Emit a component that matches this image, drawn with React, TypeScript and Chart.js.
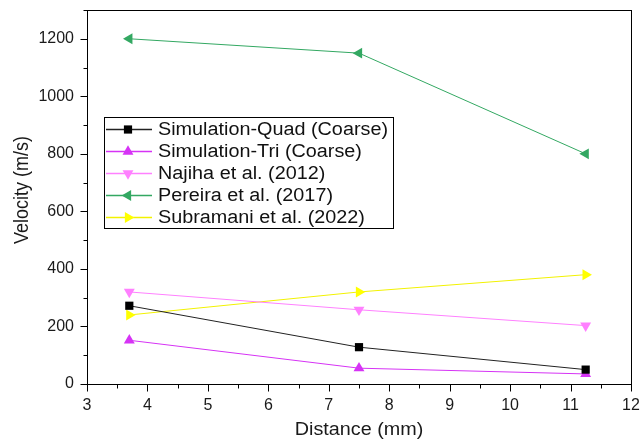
import React, { useEffect, useRef } from 'react';
import { Chart, registerables } from 'chart.js';
import { drawPoint } from 'chart.js/helpers';

Chart.register(...registerables);

// Measured velocities at three distances from the tool
const distances = [3.7, 7.5, 11.25];
const quadCoarse = [272, 128, 50];
const triCoarse = [152, 55, 35];
const najiha2012 = [320, 258, 203];
const pereira2017 = [1200, 1150, 800];
const subramani2022 = [240, 320, 380];

const seriesLabels = [
  'Simulation-Quad (Coarse)',
  'Simulation-Tri (Coarse)',
  'Najiha et al. (2012)',
  'Pereira et al. (2017)',
  'Subramani et al. (2022)',
];

const xTitle = 'Distance (mm)';
const yTitle = 'Velocity (m/s)';

const FONT = '"Liberation Sans", Arial, sans-serif';

const toPoints = (vals: number[]) => distances.map((x, i) => ({ x, y: vals[i] }));

type Style = { color: string; line: string; pointStyle: string; rotation: number; radius: number };

const styles: Style[] = [
  { color: '#000000', line: '#222222', pointStyle: 'rect', rotation: 0, radius: 5.8 },
  { color: '#d633f5', line: '#d633f5', pointStyle: 'triangle', rotation: 0, radius: 6.3 },
  { color: '#ff80ff', line: '#ff80ff', pointStyle: 'triangle', rotation: 180, radius: 6.3 },
  { color: '#33a862', line: '#33a862', pointStyle: 'triangle', rotation: 270, radius: 6.3 },
  { color: '#ffff00', line: '#f2f200', pointStyle: 'triangle', rotation: 90, radius: 6.3 },
];

const seriesValues = [quadCoarse, triCoarse, najiha2012, pereira2017, subramani2022];

// Draws text slightly widened horizontally, like the exported figure's lettering
function wideText(ctx: CanvasRenderingContext2D, text: string, x: number, y: number, sx: number) {
  ctx.save();
  ctx.translate(x, y);
  ctx.scale(sx, 1);
  ctx.fillText(text, 0, 0);
  ctx.restore();
}

// Frame, outward major/minor ticks and axis titles
const framePlugin = {
  id: 'frameTicks',
  afterDraw(chart: any) {
    const { ctx, chartArea } = chart;
    const xs = chart.scales.x;
    const ys = chart.scales.y;
    ctx.save();
    ctx.strokeStyle = '#000';
    ctx.lineWidth = 1;
    ctx.strokeRect(
      Math.round(chartArea.left) + 0.5,
      Math.round(chartArea.top) + 0.5,
      Math.round(chartArea.right - chartArea.left),
      Math.round(chartArea.bottom - chartArea.top)
    );
    ctx.beginPath();
    for (let v = 0; v <= 1300; v += 100) {
      const p = Math.round(ys.getPixelForValue(v)) + 0.5;
      const len = v % 200 === 0 ? 7 : 4;
      ctx.moveTo(Math.round(chartArea.left) + 0.5, p);
      ctx.lineTo(Math.round(chartArea.left) + 0.5 - len, p);
    }
    for (let v = 3; v <= 12.001; v += 0.5) {
      const p = Math.round(xs.getPixelForValue(v)) + 0.5;
      const len = Number.isInteger(v) ? 7 : 4;
      ctx.moveTo(p, Math.round(chartArea.bottom) + 0.5);
      ctx.lineTo(p, Math.round(chartArea.bottom) + 0.5 + len);
    }
    ctx.stroke();

    ctx.fillStyle = '#1a1a1a';
    ctx.textAlign = 'center';
    ctx.textBaseline = 'alphabetic';
    ctx.font = `17.5px ${FONT}`;
    const cx = (chartArea.left + chartArea.right) / 2;
    wideText(ctx, xTitle, cx, 435, 1.13);

    ctx.font = `18px ${FONT}`;
    ctx.textBaseline = 'middle';
    ctx.translate(23, 190);
    ctx.rotate(-Math.PI / 2);
    ctx.scale(1, 1.1);
    ctx.fillText(yTitle, 0, 0);
    ctx.restore();
  },
};

// Boxed legend inside the plot area
const legendPlugin = {
  id: 'boxLegend',
  afterDatasetsDraw(chart: any) {
    const { ctx } = chart;
    const left = 104.5;
    const top = 117.5;
    const w = 289;
    const h = 111;
    ctx.save();
    ctx.fillStyle = '#ffffff';
    ctx.fillRect(left, top, w, h);
    ctx.strokeStyle = '#000';
    ctx.lineWidth = 1;
    ctx.strokeRect(left, top, w, h);
    chart.data.datasets.forEach((ds: any, i: number) => {
      const st = styles[i];
      const y = 129.5 + i * 22;
      ctx.strokeStyle = st.line;
      ctx.lineWidth = 1.3;
      ctx.beginPath();
      ctx.moveTo(106, y);
      ctx.lineTo(152, y);
      ctx.stroke();
      ctx.fillStyle = st.color;
      ctx.strokeStyle = st.color;
      drawPoint(ctx, { pointStyle: st.pointStyle as any, rotation: st.rotation, radius: st.radius, borderWidth: 0 }, 128, y);
      ctx.fillStyle = '#111';
      ctx.font = `18px ${FONT}`;
      ctx.textBaseline = 'middle';
      ctx.textAlign = 'left';
      wideText(ctx, ds.label, 158, y + 1, 1.1);
    });
    ctx.restore();
  },
};

export default function App() {
  const ref = useRef<HTMLCanvasElement | null>(null);

  useEffect(() => {
    if (!ref.current) return;
    const chart = new Chart(ref.current, {
      type: 'line',
      data: {
        datasets: seriesValues.map((vals, i) => ({
          label: seriesLabels[i],
          data: toPoints(vals),
          borderColor: styles[i].line,
          backgroundColor: styles[i].color,
          pointBackgroundColor: styles[i].color,
          pointBorderColor: styles[i].color,
          pointBorderWidth: 0,
          borderWidth: 1,
          pointStyle: styles[i].pointStyle as any,
          pointRotation: styles[i].rotation,
          pointRadius: styles[i].radius,
          tension: 0,
          fill: false,
        })),
      },
      options: {
        responsive: false,
        animation: false,
        devicePixelRatio: 1,
        layout: { padding: { left: 0, top: 10, right: 9, bottom: 0 } },
        plugins: {
          legend: { display: false },
          tooltip: { enabled: false },
        },
        scales: {
          x: {
            type: 'linear',
            min: 3,
            max: 12,
            afterFit: (s: any) => {
              s.height = 57;
              s.paddingLeft = 0;
              s.paddingRight = 0;
            },
            grid: { display: false, drawTicks: false },
            border: { display: false },
            ticks: {
              stepSize: 1,
              padding: 12,
              color: '#1a1a1a',
              font: { family: FONT, size: 16 },
              maxRotation: 0,
            },
            title: { display: false },
          },
          y: {
            type: 'linear',
            min: 0,
            max: 1300,
            afterFit: (s: any) => {
              s.width = 87;
              s.paddingTop = 0;
              s.paddingBottom = 0;
            },
            grid: { display: false, drawTicks: false },
            border: { display: false },
            ticks: {
              stepSize: 200,
              padding: 13,
              color: '#1a1a1a',
              font: { family: FONT, size: 16 },
              callback: (v: any) => (Number(v) % 200 === 0 && Number(v) <= 1200 ? String(v) : ''),
            },
            title: { display: false },
          },
        },
      },
      plugins: [framePlugin, legendPlugin],
    });
    return () => chart.destroy();
  }, []);

  return (
    <div style={{ position: 'fixed', left: 0, top: 0, width: 640, height: 441, background: '#fff' }}>
      <canvas ref={ref} width={640} height={441} />
    </div>
  );
}
